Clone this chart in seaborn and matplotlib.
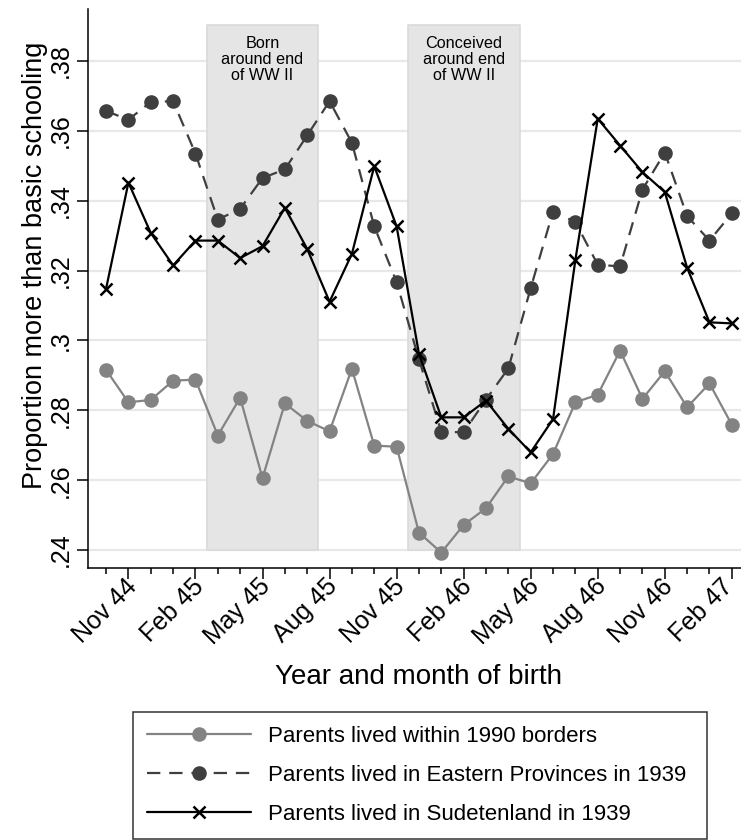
import matplotlib
matplotlib.use("Agg")
import matplotlib.pyplot as plt
import matplotlib.transforms as mtransforms
import seaborn as sns
import pandas as pd
import numpy as np

# ---- data ----
months = ["Oct 44", "Nov 44", "Dec 44", "Jan 45", "Feb 45", "Mar 45", "Apr 45", "May 45",
          "Jun 45", "Jul 45", "Aug 45", "Sep 45", "Oct 45", "Nov 45", "Dec 45", "Jan 46",
          "Feb 46", "Mar 46", "Apr 46", "May 46", "Jun 46", "Jul 46", "Aug 46", "Sep 46",
          "Oct 46", "Nov 46", "Dec 46", "Jan 47", "Feb 47"]
within_1990 = [0.2916, 0.2823, 0.2830, 0.2885, 0.2888, 0.2728, 0.2836, 0.2606, 0.2820, 0.2770,
               0.2740, 0.2919, 0.2699, 0.2696, 0.2450, 0.2393, 0.2472, 0.2520, 0.2611, 0.2591,
               0.2675, 0.2823, 0.2845, 0.2971, 0.2833, 0.2912, 0.2809, 0.2877, 0.2759]
eastern = [0.3657, 0.3632, 0.3683, 0.3685, 0.3535, 0.3346, 0.3377, 0.3465, 0.3490, 0.3587,
           0.3685, 0.3566, 0.3327, 0.3167, 0.2946, 0.2739, 0.2737, 0.2831, 0.2920, 0.3150,
           0.3369, 0.3339, 0.3217, 0.3212, 0.3432, 0.3538, 0.3356, 0.3286, 0.3364]
sudeten = [0.3148, 0.3452, 0.3308, 0.3215, 0.3286, 0.3286, 0.3236, 0.3270, 0.3380, 0.3262,
           0.3111, 0.3248, 0.3499, 0.3327, 0.2962, 0.2780, 0.2780, 0.2828, 0.2747, 0.2680,
           0.2775, 0.3231, 0.3635, 0.3558, 0.3482, 0.3425, 0.3208, 0.3052, 0.3049]
series_labels = ["Parents lived within 1990 borders",
                 "Parents lived in Eastern Provinces in 1939",
                 "Parents lived in Sudetenland in 1939"]
tick_labels = ["Nov 44", "Feb 45", "May 45", "Aug 45", "Nov 45", "Feb 46", "May 46",
               "Aug 46", "Nov 46", "Feb 47"]
y_ticks = [0.24, 0.26, 0.28, 0.30, 0.32, 0.34, 0.36, 0.38]
y_tick_labels = [".24", ".26", ".28", ".3", ".32", ".34", ".36", ".38"]
shade_labels = ["Born\naround end\nof WW II", "Conceived\naround end\nof WW II"]
shade_spans = [("Feb 45", "Jul 45"), ("Nov 45", "Apr 46")]

# ---- style ----
sns.set_style("white")
plt.rcParams["font.family"] = ["Liberation Sans", "DejaVu Sans"]
plt.rcParams["text.color"] = "black"
plt.rcParams["axes.labelcolor"] = "black"
plt.rcParams["xtick.color"] = "black"
plt.rcParams["ytick.color"] = "black"

fig = plt.figure(figsize=(7.41, 8.40), dpi=100)
ax = fig.add_axes([0.1184, 0.3235, 0.8816, 0.6658])

idx = np.arange(len(months))
df = pd.DataFrame({"m": idx, "within": within_1990, "east": eastern, "sud": sudeten})

# gridlines
for yt in y_ticks:
    ax.axhline(yt, color="#e8e8e8", lw=1.6, zorder=0.5)

# shaded periods
for (a, b), txt in zip(shade_spans, shade_labels):
    x0 = months.index(a) + 0.5
    x1 = months.index(b) + 0.5
    ax.fill_between([x0, x1], 0.24, 0.3903, facecolor="#e5e5e5", edgecolor="#d9d9d9",
                    lw=1.2, zorder=1)
    ax.text((x0 + x1) / 2, 0.3872, txt, ha="center", va="top", fontsize=11.7,
            color="black", linespacing=1.08, zorder=2)

sns.lineplot(data=df, x="m", y="within", ax=ax, color="#838383", lw=1.6,
             marker="o", markersize=10.5, markeredgewidth=0, label=series_labels[0], zorder=3)
sns.lineplot(data=df, x="m", y="east", ax=ax, color="#3f3f3f", lw=1.6,
             linestyle=(0, (6, 4)), marker="o", markersize=10.5, markeredgewidth=0,
             label=series_labels[1], zorder=4)
sns.lineplot(data=df, x="m", y="sud", ax=ax, color="black", lw=1.6,
             marker="x", markersize=8, markeredgewidth=1.8, markeredgecolor="black",
             markerfacecolor="black", label=series_labels[2], zorder=5)

ax.set_xlim(-0.82, 28.41)
ax.set_ylim(0.2348, 0.3949)

ax.tick_params(axis="x", which="major", length=8, width=1.1, direction="out",
               bottom=True, pad=2, color="black")
ax.tick_params(axis="x", which="minor", length=4.5, width=1.1, direction="out",
               bottom=True, color="black")
ax.tick_params(axis="y", which="major", length=8, width=1.1, direction="out",
               left=True, pad=3, color="black")

ax.set_xticks([months.index(t) for t in tick_labels])
ax.set_xticklabels(tick_labels, rotation=45, ha="right", va="top",
                   rotation_mode="anchor", fontsize=18)
ax.set_xticks(idx, minor=True)
ax.set_yticks(y_ticks)
ax.set_yticklabels(y_tick_labels, rotation=90, va="center", fontsize=18)

xt_labels = ax.get_xticklabels()
for i, lab in enumerate(xt_labels):
    dx = -4 if i < len(xt_labels) - 1 else -11
    shift = mtransforms.ScaledTranslation(dx / 100, 8 / 100, fig.dpi_scale_trans)
    lab.set_transform(lab.get_transform() + shift)

for s in ["top", "right"]:
    ax.spines[s].set_visible(False)
for s in ["left", "bottom"]:
    ax.spines[s].set_color("black")
    ax.spines[s].set_linewidth(1.1)

ax.set_xlabel("Year and month of birth", fontsize=20)
ax.xaxis.set_label_coords((418 - 87.7) / 653.3, -(664 - 568.3) / 559.3)
ax.set_ylabel("Proportion more than basic schooling", fontsize=19.5)
ax.yaxis.set_label_coords((48 - 87.7) / 653.3, (568.3 - 265) / 559.3)

handles, labels = ax.get_legend_handles_labels()
if ax.get_legend() is not None:
    ax.get_legend().remove()
leg = fig.legend(handles, labels, loc="upper left",
                 bbox_to_anchor=(133 / 741, 0.0, (707 - 133) / 741, 1 - 712 / 840),
                 mode="expand", borderaxespad=0, fontsize=16, frameon=True,
                 fancybox=False, edgecolor="black", handlelength=4.7,
                 handletextpad=0.75, borderpad=0.62, labelspacing=0.82)
leg.get_frame().set_linewidth(1.1)

fig.savefig("out.png", dpi=100)
